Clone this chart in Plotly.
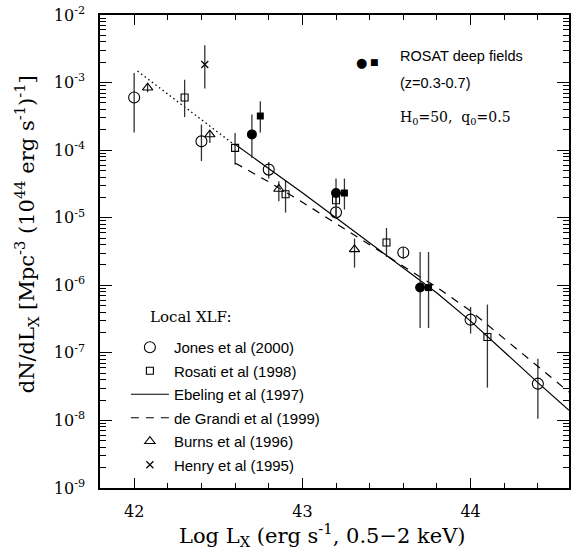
import plotly.graph_objects as go

# ---------------- data ----------------
# Jones et al (2000) - open circles
jones_logL = [42.0, 42.4, 42.8, 43.2, 43.6, 44.0, 44.4]
jones_phi = [6.0e-4, 1.35e-4, 5.15e-5, 1.2e-5, 3.05e-6, 3.1e-7, 3.5e-8]
jones_lo = [1.82e-4, 6.9e-5, 3.8e-5, 9.7e-6, 2.48e-6, 1.93e-7, 1.06e-8]
jones_hi = [1.39e-3, 2.39e-4, 6.67e-5, 1.45e-5, 3.69e-6, 4.78e-7, 8.2e-8]

# Rosati et al (1998) - open squares
rosati_logL = [42.3, 42.6, 42.9, 43.2, 43.5, 44.1]
rosati_phi = [6.0e-4, 1.08e-4, 2.22e-5, 1.81e-5, 4.29e-6, 1.72e-7]
rosati_lo = [3.09e-4, 6.1e-5, 1.19e-5, 1.5e-5, 2.62e-6, 3.06e-8]
rosati_hi = [1.1e-3, 1.8e-4, 3.58e-5, 2.2e-5, 7.05e-6, 5.18e-7]

# Burns et al (1996) - open triangles
burns_logL = [42.08, 42.45, 42.86, 43.31]
burns_phi = [8.4e-4, 1.7e-4, 2.66e-5, 3.4e-6]
burns_lo = [7.2e-4, 1.28e-4, 1.75e-5, 1.83e-6]
burns_hi = [9.7e-4, 1.97e-4, 3.46e-5, 4.9e-6]

# Henry et al (1995) - crosses
henry_logL = [42.42]
henry_phi = [1.85e-3]
henry_lo = [8.15e-4]
henry_hi = [3.56e-3]

# ROSAT deep fields (z=0.3-0.7) - filled circles and filled squares
deep_circ_logL = [42.7, 43.2, 43.7]
deep_circ_phi = [1.71e-4, 2.32e-5, 9.25e-7]
deep_circ_lo = [7.66e-5, 1.0e-5, 2.33e-7]
deep_circ_hi = [3.36e-4, 3.8e-5, 3.11e-6]

deep_sq_logL = [42.75, 43.25, 43.75]
deep_sq_phi = [3.2e-4, 2.32e-5, 9.25e-7]
deep_sq_lo = [1.82e-4, 1.32e-5, 2.33e-7]
deep_sq_hi = [5.28e-4, 3.8e-5, 3.11e-6]

# Ebeling et al (1997) - solid curve
ebeling_logL = [42.6, 42.8, 43.0, 43.2, 43.4, 43.6, 43.8, 44.0, 44.2, 44.4, 44.585]
ebeling_phi = [1.22e-4, 5.37e-5, 2.34e-5, 1.0e-5, 4.27e-6, 1.78e-6, 7.67e-7,
               2.95e-7, 1.03e-7, 3.63e-8, 1.41e-8]

# de Grandi et al (1999) - dashed curve
degrandi_logL = [42.6, 42.8, 43.0, 43.2, 43.4, 43.6, 43.8, 44.0, 44.2, 44.4, 44.585]
degrandi_phi = [6.46e-5, 3.39e-5, 1.70e-5, 8.32e-6, 3.98e-6, 1.91e-6, 9.33e-7,
                4.17e-7, 1.62e-7, 6.31e-8, 2.63e-8]

# Extrapolation (dotted)
extrap_logL = [42.02, 42.6]
extrap_phi = [1.48e-3, 1.18e-4]

# Axis ticks
x_tick_vals = [42, 43, 44]
x_tick_text = ["42", "43", "44"]
y_exponents = [-9, -8, -7, -6, -5, -4, -3, -2]
y_tick_text = ["10<sup>-%d</sup>" % abs(e) for e in y_exponents]

SERIF = "DejaVu Serif"
SANS = "Liberation Sans"
ERR_COLOR = "#333333"


def err(phi, lo, hi):
    return dict(type="data", symmetric=False,
                array=[h - p for p, h in zip(phi, hi)],
                arrayminus=[p - l for p, l in zip(phi, lo)],
                width=0, thickness=1.3, color=ERR_COLOR)


fig = go.Figure()

fig.add_trace(go.Scatter(x=extrap_logL, y=extrap_phi, mode="lines",
                         line=dict(color="black", width=1.3, dash="1.5px,3px"),
                         showlegend=False, hoverinfo="skip"))

fig.add_trace(go.Scatter(x=jones_logL, y=jones_phi, mode="markers", name="Jones et al (2000)",
                         legendgroup="a",
                         marker=dict(symbol="circle-open", size=11, color="black", line=dict(width=1.1)),
                         error_y=err(jones_phi, jones_lo, jones_hi)))
fig.add_trace(go.Scatter(x=rosati_logL, y=rosati_phi, mode="markers", name="Rosati et al (1998)",
                         legendgroup="b",
                         marker=dict(symbol="square-open", size=7, color="black", line=dict(width=1.1)),
                         error_y=err(rosati_phi, rosati_lo, rosati_hi)))
fig.add_trace(go.Scatter(x=ebeling_logL, y=ebeling_phi, mode="lines", name="Ebeling et al (1997)",
                         legendgroup="c",
                         line=dict(color="black", width=1.2)))
fig.add_trace(go.Scatter(x=degrandi_logL, y=degrandi_phi, mode="lines", name="de Grandi et al (1999)",
                         legendgroup="d",
                         line=dict(color="black", width=1.2, dash="8px,7px")))
fig.add_trace(go.Scatter(x=burns_logL, y=burns_phi, mode="markers", name="Burns et al (1996)",
                         legendgroup="e",
                         marker=dict(symbol="triangle-up-open", size=9, color="black", line=dict(width=1.1)),
                         error_y=err(burns_phi, burns_lo, burns_hi)))
fig.add_trace(go.Scatter(x=henry_logL, y=henry_phi, mode="markers", name="Henry et al (1995)",
                         legendgroup="f",
                         marker=dict(symbol="x-thin-open", size=7, color="black", line=dict(width=1.2)),
                         error_y=err(henry_phi, henry_lo, henry_hi)))
fig.add_trace(go.Scatter(x=deep_circ_logL, y=deep_circ_phi, mode="markers", showlegend=False,
                         marker=dict(symbol="circle", size=10, color="black"),
                         error_y=err(deep_circ_phi, deep_circ_lo, deep_circ_hi)))
fig.add_trace(go.Scatter(x=deep_sq_logL, y=deep_sq_phi, mode="markers", showlegend=False,
                         marker=dict(symbol="square", size=7, color="black"),
                         error_y=err(deep_sq_phi, deep_sq_lo, deep_sq_hi)))

y_minor = [m * 10.0 ** e for e in y_exponents[:-1] for m in range(2, 10)]

fig.update_xaxes(
    range=[41.797, 44.585], tickmode="array", tickvals=x_tick_vals, ticktext=x_tick_text,
    ticks="inside", ticklen=10, tickwidth=1.2, tickcolor="black",
    minor=dict(ticks="inside", ticklen=5, tickwidth=1.2, tickcolor="black",
               tickmode="linear", tick0=42, dtick=0.2, showgrid=False),
    showline=True, linewidth=1.5, linecolor="black", mirror="allticks",
    showgrid=False, zeroline=False,
    tickfont=dict(family=SERIF, size=16, color="black"), ticklabelstandoff=8,
)
fig.update_yaxes(
    type="log", range=[-9, -2], tickmode="array",
    tickvals=[10.0 ** e for e in y_exponents], ticktext=y_tick_text,
    ticks="inside", ticklen=12, tickwidth=1.2, tickcolor="black",
    minor=dict(ticks="inside", ticklen=6, tickwidth=1.0, tickcolor="black",
               tickmode="array", tickvals=y_minor, showgrid=False),
    showline=True, linewidth=1.5, linecolor="black", mirror="allticks",
    showgrid=False, zeroline=False,
    tickfont=dict(family=SERIF, size=16, color="black"), ticklabelstandoff=10,
)

W, H = 575, 550
L, R, T, B = 100, 4, 15, 62


def px(xp):
    return (xp - L) / (W - L - R)


def py(yp):
    return (H - B - yp) / (H - T - B)


annotations = [
    dict(text="dN/dL<sub>X</sub> [Mpc<sup>-3</sup> (10<sup>44</sup> erg s<sup>-1</sup>)<sup>-1</sup>]",
         x=px(26), y=py(234), textangle=-90, font=dict(family=SERIF, size=21, color="black")),
    dict(text="Log L<sub>X</sub> (erg s<sup>-1</sup>, 0.5\u22122 keV)",
         x=px(323), y=py(535), font=dict(family=SERIF, size=21, color="black")),
    dict(text="Local XLF:", x=px(148), y=py(317), xanchor="left",
         font=dict(family=SERIF, size=15, color="black")),
    dict(text="\u25CF", x=px(363), y=py(62), font=dict(family="DejaVu Sans", size=13, color="black")),
    dict(text="\u25A0", x=px(376), y=py(62), font=dict(family="DejaVu Sans", size=9, color="black")),
    dict(text="ROSAT deep fields", x=px(399), y=py(56), xanchor="left",
         font=dict(family=SANS, size=14.5, color="black")),
    dict(text="(z=0.3-0.7)", x=px(399), y=py(83), xanchor="left",
         font=dict(family=SANS, size=14.5, color="black")),
    dict(text="H<sub>0</sub>=50,  q<sub>0</sub>=0.5", x=px(399), y=py(118), xanchor="left",
         font=dict(family=SERIF, size=14, color="black")),
]
for a in annotations:
    a.update(xref="paper", yref="paper", showarrow=False)
    a.setdefault("xanchor", "center")
    a.setdefault("yanchor", "middle")

fig.update_layout(
    width=W, height=H, margin=dict(l=L, r=R, t=T, b=B),
    paper_bgcolor="white", plot_bgcolor="white",
    annotations=annotations,
    showlegend=True,
    legend=dict(x=px(126), y=py(331), xanchor="left", yanchor="top",
                bgcolor="rgba(0,0,0,0)", traceorder="grouped", tracegroupgap=1,
                itemwidth=38,
                font=dict(family=SANS, size=15, color="black")),
)

fig.write_html("out.html", config={"displayModeBar": False},
               post_script="document.body.style.margin='0px';")
